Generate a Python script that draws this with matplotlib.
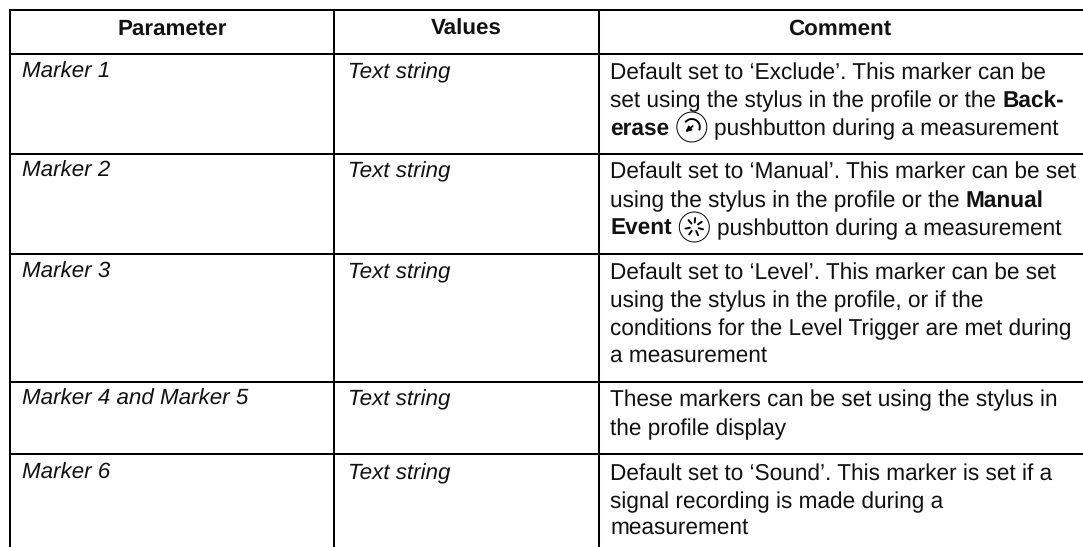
import numpy as np
import matplotlib
matplotlib.use("Agg")
import matplotlib.pyplot as plt
from matplotlib.patches import Circle, Arc, FancyArrowPatch

plt.rcParams["text.hinting"] = "no_hinting"

# ---- content ----
headers = ["Parameter", "Values", "Comment"]
parameters = ["Marker 1", "Marker 2", "Marker 3", "Marker 4 and Marker 5", "Marker 6"]
values = ["Text string"] * 5
B, R, I = "bold", "normal", "icon"
comments = [
    [[("Default set to \u2018Exclude\u2019. This marker can be", R)],
     [("set using the stylus in the profile or the", R), ("Back-", B)],
     [("erase", B), ("back", I), ("pushbutton during a measurement", R)]],
    [[("Default set to \u2018Manual\u2019. This marker can be set", R)],
     [("using the stylus in the profile or the", R), ("Manual", B)],
     [("Event", B), ("star", I), ("pushbutton during a measurement", R)]],
    [[("Default set to \u2018Level\u2019. This marker can be set", R)],
     [("using the stylus in the profile, or if the", R)],
     [("conditions for the Level Trigger are met during", R)],
     [("a measurement", R)]],
    [[("These markers can be set using the stylus in", R)],
     [("the profile display", R)]],
    [[("Default set to \u2018Sound\u2019. This marker is set if a", R)],
     [("signal recording is made during a", R)],
     [("measurement", R)]],
]

# ---- layout in image pixels ----
W, H = 1083, 547
col_x = [10, 334, 599]
row_y = [10, 54, 153.5, 253.5, 382, 453.5]
bottom = 547
header_base = 35
header_cx = [172, 466, 840]
cell_x = [22, 348, 610]
row_base = [[79, 107, 135], [178, 207, 235], [279, 307, 335, 363], [406, 435], [480, 508, 535]]
FS_LEFT = 16.1
FS = 16.3
LW = 1.45
FONT = "Liberation Sans"
ICON_R = 15
SPACE = 6.2
INK = "#111111"
STAR_ANGLES = [-85, -35, 15, 65, 125, 170, -130]

fig = plt.figure(figsize=(W / 100, H / 100), dpi=100, facecolor="white")
ax = fig.add_axes([0, 0, 1, 1])
ax.set_xlim(0, W)
ax.set_ylim(H, 0)
ax.axis("off")

# rules
for y in row_y:
    ax.plot([col_x[0] - 1, W], [y, y], color="black", lw=LW, solid_capstyle="butt")
for x in col_x:
    ax.plot([x, x], [row_y[0], bottom], color="black", lw=LW, solid_capstyle="butt")

# headers
for t, cx in zip(headers, header_cx):
    ax.text(cx, header_base, t, ha="center", va="baseline", fontsize=FS_LEFT, family=FONT,
            fontweight="bold", color=INK)

# first two columns
for i in range(5):
    ax.text(cell_x[0], row_base[i][0] - 1, parameters[i], style="italic", fontsize=FS_LEFT, family=FONT,
            va="baseline", color=INK)
    ax.text(cell_x[1], row_base[i][0] - 1, values[i], style="italic", fontsize=FS_LEFT, family=FONT,
            va="baseline", color=INK)


def draw_icon(kind, cx, cy):
    ax.add_patch(Circle((cx, cy), ICON_R, fill=False, ec="black", lw=0.7))
    if kind == "star":
        for a in np.deg2rad(STAR_ANGLES):
            ax.plot([cx + 4.5 * np.cos(a), cx + 9 * np.cos(a)],
                    [cy + 4.5 * np.sin(a), cy + 9 * np.sin(a)],
                    color="black", lw=1.4, solid_capstyle="round")
    else:
        ax.add_patch(Arc((cx, cy), 16, 16, theta1=215, theta2=385, ec="black", lw=1.4))
        ax.add_patch(FancyArrowPatch((cx + 1, cy - 1), (cx - 6.5, cy + 5), arrowstyle="-|>",
                                     mutation_scale=8, color="black", lw=1.2, shrinkA=0, shrinkB=0))


# comment column: runs laid out left to right from measured widths
fig.canvas.draw()
rend = fig.canvas.get_renderer()
for rows, bases in zip(comments, row_base):
    for runs, base in zip(rows, bases):
        x = cell_x[2]
        for text, kind in runs:
            if kind == I:
                x += 1.5
                draw_icon(text, x + ICON_R, base - 8)
                x += 2 * ICON_R + 7.5
                continue
            t = ax.text(x, base, text, fontsize=FS, family=FONT, fontweight=kind,
                        va="baseline", color=INK)
            x += t.get_window_extent(rend).width + SPACE

fig.savefig("out.png", dpi=100, facecolor="white")
